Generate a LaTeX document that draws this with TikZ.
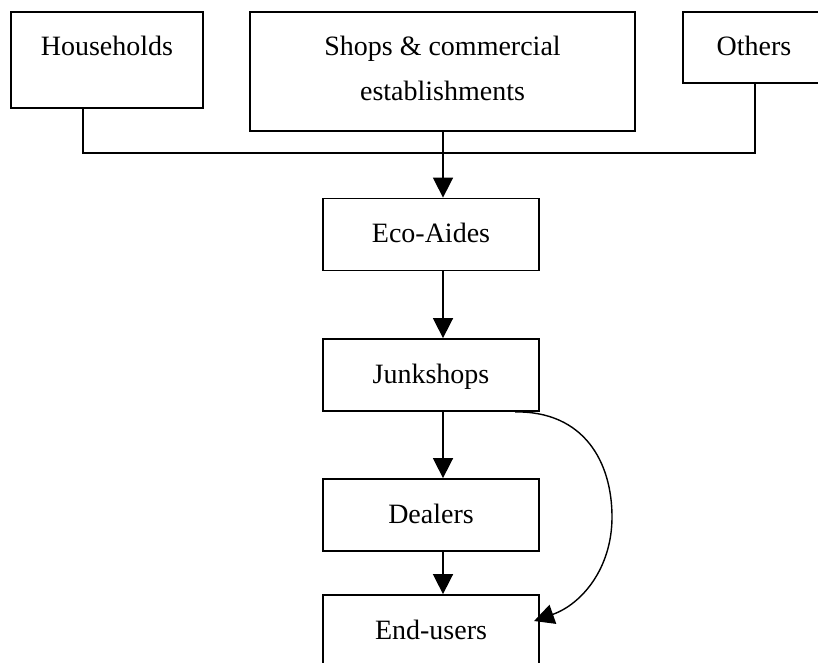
\documentclass[tikz,border=0pt]{standalone}
\usepackage{fontspec}
\setmainfont{Liberation Serif}
\usetikzlibrary{arrows.meta,calc}
\begin{document}
\begin{tikzpicture}[x=1pt,y=-1pt,
  box/.style={draw, line width=1.8pt, rectangle, inner sep=0pt,
    font=\fontsize{28}{45}\selectfont},
  stage/.style={box, minimum width=216.3pt, minimum height=72pt,
    text height=19pt, text depth=3pt},
  caption/.style={font=\fontsize{28}{45}\selectfont, inner sep=0pt},
  link/.style={line width=1.6pt},
  flow/.style={link, -{Triangle[length=20pt,width=20pt]}},
  bypass/.style={line width=1.4pt, -{Triangle[length=20pt,width=20pt]}}]

\useasboundingbox (0,0) rectangle (818,662);

% source boxes along the top
\node[box, minimum width=192pt, minimum height=96pt] (hh) at (107,60) {};
\node[box, minimum width=385pt, minimum height=119pt] (shops) at (442.5,71.5) {};
\node[box, minimum width=142pt, minimum height=71pt] (oth) at (754,47.5) {};

\node[caption, anchor=base] (hhtext) at ([yshift=-44pt]hh.north) {Households};
\node[caption, anchor=north, align=center] (shopstext) at ([yshift=-25pt]shops.north)
  {Shops \& commercial\\establishments};
\node[caption, anchor=base] (othtext) at ([yshift=-44pt]oth.north) {Others};

% collection chain
\node[stage] (eco) at (431,234.5) {Eco-Aides};
\node[stage] (junk) at (431,375) {Junkshops};
\node[stage] (deal) at (431,515) {Dealers};
\node[stage] (endu) at (431,631) {End-users};

% collector bus joining the sources
\coordinate (busw) at (83,153);
\coordinate (buse) at (755,153);
\coordinate (spine) at (443,153);
\coordinate (loop) at (515,0);

\draw[link] (hh.south -| busw) -- (busw) -- (buse) -- (oth.south -| buse);
\draw[flow] (shops.south -| spine) -- (eco.north -| spine);
\draw[flow] (eco.south -| spine) -- (junk.north -| spine);
\draw[flow] (junk.south -| spine) -- (deal.north -| spine);
\draw[flow] (deal.south -| spine) -- (endu.north -| spine);

% direct route from junkshops to end-users
\draw[bypass] (junk.south -| loop)
  .. controls (584,411) and (612,462) .. (612,517)
  .. controls (612,568) and (582,604) .. ($(endu.east)+(-6,-10)$);
\end{tikzpicture}
\end{document}
